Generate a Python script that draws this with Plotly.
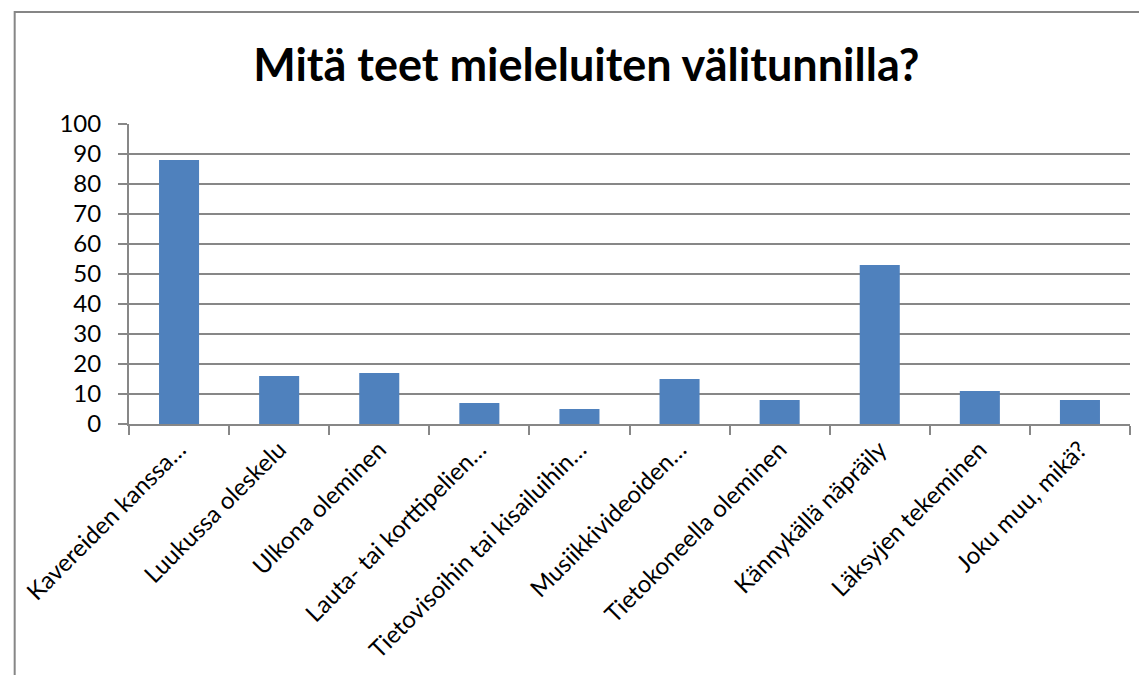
import plotly.graph_objects as go

categories = [
    "Kavereiden kanssa…",
    "Luukussa oleskelu",
    "Ulkona oleminen",
    "Lauta- tai korttipelien…",
    "Tietovisoihin tai kisailuihin…",
    "Musiikkivideoiden…",
    "Tietokoneella oleminen",
    "Kännykällä näpräily",
    "Läksyjen tekeminen",
    "Joku muu, mikä?",
]
values = [88, 16, 17, 7, 5, 15, 8, 53, 11, 8]
title_text = "Mitä teet mieleluiten välitunnilla?"

OFF = 8  # page body margin
W, H = 1147 - OFF, 675 - OFF
L, T = 123 - OFF, 124 - OFF
R = W - (1130 - OFF)
B = H - (424 - OFF)
pw = W - L - R
ph = H - T - B

font_family = "Lato, Carlito, Calibri, sans-serif"
grid = "#878787"

fig = go.Figure(
    go.Bar(
        x=categories,
        y=values,
        marker=dict(color="#4F81BD", line=dict(width=0)),
    )
)

fig.update_layout(
    width=W,
    height=H,
    margin=dict(l=L, r=R, t=T, b=B),
    paper_bgcolor="white",
    plot_bgcolor="white",
    bargap=0.6,
    showlegend=False,
    font=dict(family=font_family, color="black", size=24),
    title=dict(
        text="<b>" + title_text + "</b>",
        x=(583 - OFF - L) / pw,
        xref="paper",
        xanchor="center",
        y=1 - (65 - OFF) / H,
        yref="container",
        yanchor="middle",
        font=dict(size=45, family=font_family, color="black"),
    ),
    xaxis=dict(
        type="category",
        tickangle=-45,
        tickson="boundaries",
        ticks="outside",
        ticklen=9,
        tickwidth=2,
        tickcolor=grid,
        showline=True,
        linecolor=grid,
        linewidth=2,
        showgrid=False,
        tickfont=dict(size=24, family=font_family, color="black"),
    ),
    yaxis=dict(
        range=[0, 100],
        dtick=10,
        tick0=0,
        ticks="outside",
        ticklen=9,
        tickwidth=2,
        tickcolor=grid,
        showline=True,
        linecolor=grid,
        linewidth=2,
        showgrid=True,
        gridcolor=grid,
        gridwidth=2,
        zeroline=False,
        ticklabelstandoff=12,
        tickfont=dict(size=24, family=font_family, color="black"),
    ),
    shapes=[
        dict(
            type="rect",
            xref="paper",
            yref="paper",
            x0=(8 - OFF - L) / pw,
            x1=(W + 10 - L) / pw,
            y0=-(H + 10 - T - ph) / ph,
            y1=1 + (T - (12 - OFF)) / ph,
            line=dict(color="#868686", width=2),
            fillcolor="rgba(0,0,0,0)",
            layer="below",
        )
    ],
)

fig.write_html("out.html")
